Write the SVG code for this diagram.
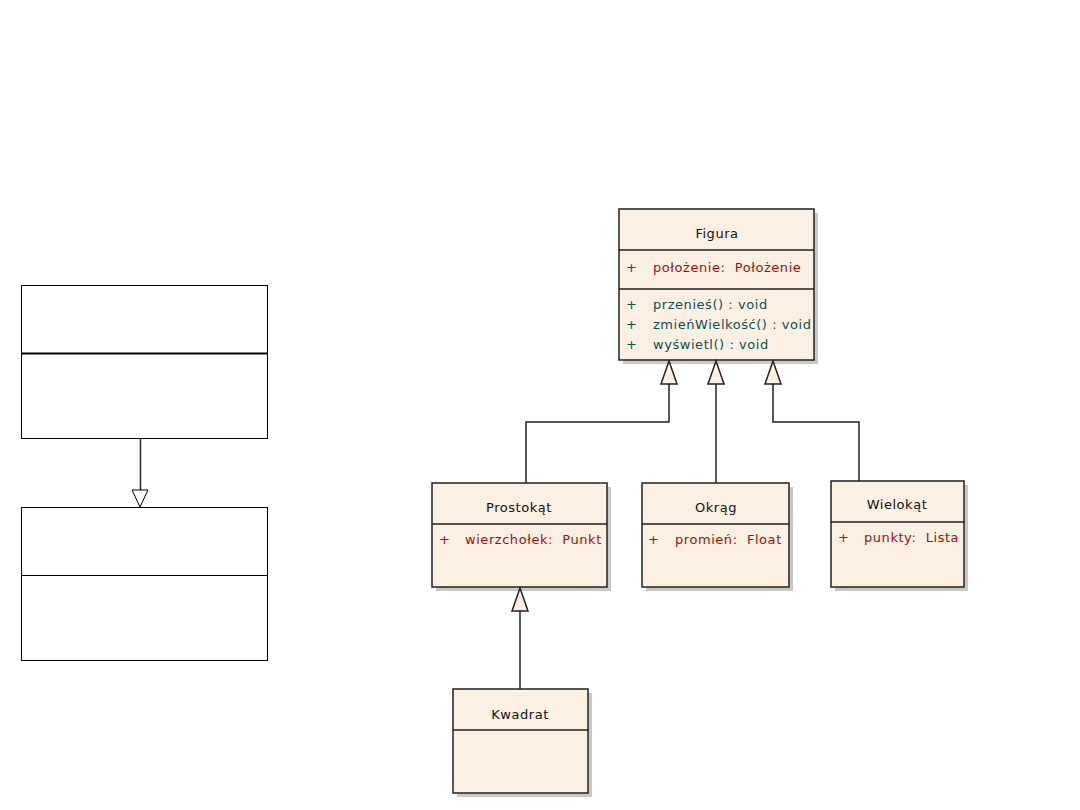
<svg xmlns="http://www.w3.org/2000/svg" width="1080" height="810" viewBox="0 0 1080 810">
<style>
.bg{fill:#ffffff}
.box{fill:#FBF0E2;stroke:#222;stroke-width:1.5}
.sh{fill:#b0b0b0;opacity:0.7}
.div{stroke:#222;stroke-width:1.5}
text{white-space:pre;font-family:"DejaVu Sans",sans-serif;font-size:13px;letter-spacing:0.55px}
.t{fill:#111}
.a{fill:#9B1010}
.m{fill:#0B4F4F}
.ln{fill:none;stroke:#222;stroke-width:1.5}
.tri{fill:#FBF0E2;stroke:#222;stroke-width:1.5}
.pb{fill:#fff;stroke:#000;stroke-width:1}
</style>
<rect class="bg" x="0" y="0" width="1080" height="810"/>
<g id="plain-top">
<rect class="pb" x="21.5" y="285.5" width="246" height="153"/>
<line x1="21.5" y1="353.5" x2="267.5" y2="353.5" stroke="#000" stroke-width="2"/>
</g>
<g id="plain-bottom">
<rect class="pb" x="21.5" y="507.5" width="246" height="153"/>
<line x1="21.5" y1="575.5" x2="267.5" y2="575.5" stroke="#000" stroke-width="1"/>
</g>
<g id="Figura">
<rect class="sh" x="623" y="213" width="195" height="151"/>
<rect class="box" x="619" y="209" width="195" height="151"/>
<line class="div" x1="619" y1="250" x2="814" y2="250"/>
<line class="div" x1="619" y1="289" x2="814" y2="289"/>
<text class="t" x="717" y="238" text-anchor="middle">Figura</text>
<text class="a" x="626" y="272">+</text>
<text class="a" x="653" y="272">położenie:  Położenie</text>
<text class="m" x="626" y="309">+</text>
<text class="m" x="653" y="309">przenieś() : void</text>
<text class="m" x="626" y="329">+</text>
<text class="m" x="653" y="329">zmieńWielkość() : void</text>
<text class="m" x="626" y="349">+</text>
<text class="m" x="653" y="349">wyświetl() : void</text>
</g>
<g id="Prostokat">
<rect class="sh" x="436" y="487" width="175" height="104"/>
<rect class="box" x="432" y="483" width="175" height="104"/>
<line class="div" x1="432" y1="524" x2="607" y2="524"/>
<text class="t" x="519" y="512" text-anchor="middle">Prostokąt</text>
<text class="a" x="439" y="544">+</text>
<text class="a" x="465" y="544">wierzchołek:  Punkt</text>
</g>
<g id="Okrag">
<rect class="sh" x="646" y="487" width="147" height="104"/>
<rect class="box" x="642" y="483" width="147" height="104"/>
<line class="div" x1="642" y1="524" x2="789" y2="524"/>
<text class="t" x="716" y="512" text-anchor="middle">Okrąg</text>
<text class="a" x="648" y="544">+</text>
<text class="a" x="675" y="544">promień:  Float</text>
</g>
<g id="Wielokat">
<rect class="sh" x="835" y="485" width="133" height="106"/>
<rect class="box" x="831" y="481" width="133" height="106"/>
<line class="div" x1="831" y1="522" x2="964" y2="522"/>
<text class="t" x="897" y="509" text-anchor="middle">Wielokąt</text>
<text class="a" x="838" y="542">+</text>
<text class="a" x="864" y="542">punkty:  Lista</text>
</g>
<g id="Kwadrat">
<rect class="sh" x="457" y="693" width="135" height="104"/>
<rect class="box" x="453" y="689" width="135" height="104"/>
<line class="div" x1="453" y1="730" x2="588" y2="730"/>
<text class="t" x="520" y="719" text-anchor="middle">Kwadrat</text>
</g>
<g id="connectors">
<path class="ln" d="M140.5 438.5 V490"/>
<polygon points="132,490 148,490 140,507" fill="#fff" stroke="#000" stroke-width="1"/>
<path class="ln" d="M526 483 V422 H669 V384"/>
<polygon class="tri" points="661,384 677,384 669,361"/>
<path class="ln" d="M716 483 V384"/>
<polygon class="tri" points="708,384 724,384 716,361"/>
<path class="ln" d="M859 481 V422 H773 V384"/>
<polygon class="tri" points="765,384 781,384 773,361"/>
<path class="ln" d="M520 689 V611"/>
<polygon class="tri" points="512,611 528,611 520,588"/>
</g>
</svg>
